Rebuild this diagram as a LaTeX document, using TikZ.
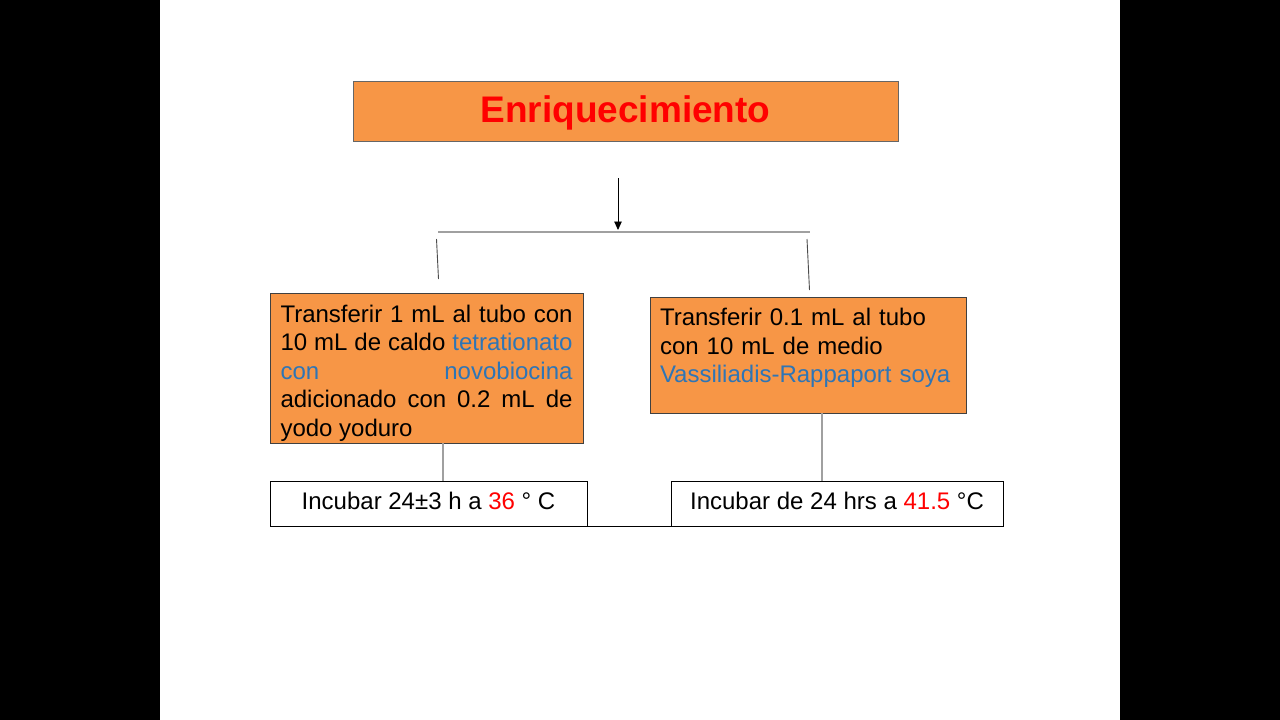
\documentclass[tikz,border=0pt]{standalone}
\usepackage{fontspec}
\setmainfont{Liberation Sans}
\usetikzlibrary{arrows.meta,calc}
\definecolor{boxorange}{HTML}{F79646}
\definecolor{txtblue}{HTML}{2E75B6}
\definecolor{txtred}{HTML}{FF0000}
\definecolor{lngray}{HTML}{A0A0A0}
\newcommand\loosepar{\tolerance=10000\relax\hbadness=10000\relax\hyphenpenalty=10000\relax}
\tikzset{
  orangebox/.style={draw=black!75, line width=0.8pt, fill=boxorange, inner ysep=0pt,
    font=\fontsize{24}{28.5}\selectfont},
  titlebox/.style={draw=black!60, line width=0.8pt, fill=boxorange, minimum width=545pt,
    minimum height=60pt, inner sep=0pt, text=txtred, text height=30.5pt, text depth=7.5pt,
    font=\fontsize{37}{44}\selectfont\bfseries},
  whitebox/.style={draw=black, line width=0.8pt, fill=white, minimum height=45pt, inner sep=0pt,
    text height=17.5pt, text depth=6pt, font=\fontsize{24}{29}\selectfont},
  gline/.style={draw=lngray, line width=1.2pt},
  dline/.style={draw=black!70, line width=0.9pt},
}
\begin{document}
\begin{tikzpicture}[x=1pt,y=-1pt]
\useasboundingbox (0,0) rectangle (1280,720);
\fill[black] (0,0) rectangle (1280,720);
\fill[white] (160,0) rectangle (1120,720);

\node[titlebox] (title) at (625.5,111) {Enriquecimiento};

\node[orangebox, text width=292pt, inner xsep=10.5pt, align=justify, minimum height=150pt] (lbox) at (426.5,368)
  {\loosepar\rule{0pt}{29pt}Transferir 1 mL al tubo con\linebreak
   10 mL de caldo \textcolor{txtblue}{tetrationato\linebreak
   con novobiocina}\linebreak
   adicionado con 0.2 mL de\linebreak
   yodo yoduro\rule[-7pt]{0pt}{0pt}};

\node[orangebox, text width=296pt, inner xsep=10pt, align=left, minimum height=116pt] (rbox) at (808,355)
  {\rule{0pt}{28.5pt}Transferir 0.1 mL al tubo\\
   con 10 mL de medio\\
   \textcolor{txtblue}{Vassiliadis-Rappaport soya}\rule[-30.5pt]{0pt}{0pt}};

\node[whitebox, minimum width=317pt] (lbot) at (428.5,503.5)
  {Incubar 24±3 h a \textcolor{txtred}{36} ° C};
\node[whitebox, minimum width=332pt] (rbot) at (837,503.5)
  {Incubar de 24 hrs a \textcolor{txtred}{41.5} °C};

% top branching lines
\coordinate (arrtop) at (618,178);
\coordinate (arrend) at (618,230);
\coordinate (hl) at (438,232);
\coordinate (hr) at (810,232);
\coordinate (sl1) at (436.5,239);
\coordinate (sl2) at (438.5,279);
\coordinate (sr1) at (807,239);
\coordinate (sr2) at (809.5,290);

\draw[black, line width=0.9pt, -{Triangle[length=8.5pt,width=7.5pt]}] (arrtop) -- (arrend);
\draw[gline] (hl) -- (hr);
\draw[dline] (sl1) -- (sl2);
\draw[dline] (sr1) -- (sr2);

% connectors down to incubation boxes
\draw[gline] ([xshift=16.5pt]lbox.south) -- ([xshift=16.5pt]lbox.south |- lbot.north);
\draw[gline] ([xshift=14pt]rbox.south) -- ([xshift=14pt]rbox.south |- rbot.north);

% bottom link between the incubation boxes
\draw[black, line width=0.8pt] (lbot.south east) -- (rbot.south west);
\end{tikzpicture}
\end{document}
